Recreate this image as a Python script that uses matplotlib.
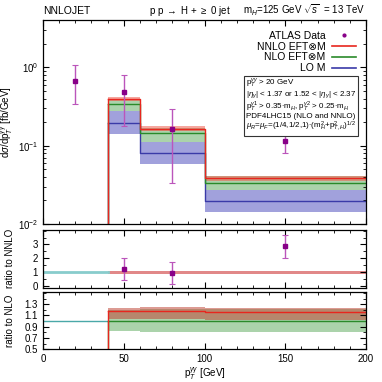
import matplotlib
matplotlib.use('Agg')
import matplotlib.pyplot as plt
from matplotlib.lines import Line2D
from matplotlib.ticker import MultipleLocator, FixedLocator
import numpy as np

plt.rcParams['font.family'] = ['Liberation Sans', 'DejaVu Sans']
plt.rcParams['mathtext.fontset'] = 'custom'
plt.rcParams['mathtext.rm'] = 'Liberation Sans'
plt.rcParams['mathtext.it'] = 'Liberation Sans:italic'
plt.rcParams['font.size'] = 7

# theory bins
edges = [40, 60, 100, 200]
nnlo = [0.395, 0.165, 0.0384]
nnlo_lo = [0.37, 0.155, 0.0359]
nnlo_hi = [0.42, 0.177, 0.0407]
nlo = [0.338, 0.144, 0.0338]
nlo_lo = [0.275, 0.112, 0.0273]
nlo_hi = [0.40, 0.17, 0.041]
lo = [0.193, 0.080, 0.0199]
lo_lo = [0.141, 0.0588, 0.0141]
lo_hi = [0.275, 0.112, 0.0273]

# ATLAS data
data_x = [20, 50, 80, 150]
data_y = [0.68, 0.49, 0.165, 0.1135]
data_lo = [0.338, 0.18, 0.0336, 0.0797]
data_hi = [1.06, 0.81, 0.298, 0.147]

# ratio to NNLO
rnn_x = [50, 80, 150]
rnn_y = [1.21, 0.94, 2.88]
rnn_lo = [0.39, 0.10, 1.98]
rnn_hi = [2.03, 1.74, 3.72]
rnn_band_lo = [0.86, 0.86, 0.86]
rnn_band_hi = [1.1, 1.1, 1.1]

# ratio to NLO
r_nnlo = [1.18, 1.186, 1.16]
r_nnlo_lo = [1.04, 1.04, 1.02]
r_nnlo_hi = [1.229, 1.25, 1.23]
r_nlo = [1.0, 1.0, 1.0]
r_nlo_lo = [0.825, 0.80, 0.81]
r_nlo_hi = [1.2, 1.22, 1.21]

RED = '#e8261e'
GREEN = '#2a8a2a'
BLUE = '#3a3aa8'
PURPLE = '#880088'
TEAL = '#4aa8a8'


def step(vals):
    return list(vals) + [vals[-1]]


def hist(ax, vals, lo, hi, color, fill, bottom):
    ax.fill_between(edges, step(lo), step(hi), step='post', color=fill, alpha=0.55, lw=0)
    ax.step(edges, step(vals), where='post', color=color, lw=1.0)
    ax.plot([edges[0], edges[0]], [bottom, vals[0]], color=color, lw=1.0)


def style(ax):
    ax.tick_params(direction='in', which='both', top=True, right=True, labelsize=7)
    ax.tick_params(which='major', length=4)
    ax.tick_params(which='minor', length=2)
    ax.xaxis.set_major_locator(MultipleLocator(50))
    ax.xaxis.set_minor_locator(MultipleLocator(10))
    ax.set_xlim(0, 200)
    for s in ax.spines.values():
        s.set_linewidth(0.9)


fig = plt.figure(figsize=(3.82, 3.82), dpi=100)
ax1 = fig.add_axes([0.1126, 0.4136, 0.8455, 0.534])
ax2 = fig.add_axes([0.1126, 0.2469, 0.8455, 0.151])
ax3 = fig.add_axes([0.1126, 0.0856, 0.8455, 0.1492])

# main panel
ax1.set_yscale('log')
ax1.set_ylim(0.01, 4.04)
hist(ax1, lo, lo_lo, lo_hi, BLUE, '#5555c0', 0.01)
hist(ax1, nlo, nlo_lo, nlo_hi, GREEN, '#66b066', 0.01)
hist(ax1, nnlo, nnlo_lo, nnlo_hi, RED, '#f06050', 0.01)
ax1.errorbar(data_x, data_y,
             yerr=[np.array(data_y) - np.array(data_lo), np.array(data_hi) - np.array(data_y)],
             fmt='s', ms=2.5, color=PURPLE, ecolor='#bb55bb', elinewidth=1.0, capsize=2, capthick=0.8)
style(ax1)
ax1.tick_params(labelbottom=False)
ax1.set_ylabel(r'd$\sigma$/dp$_T^{\gamma\gamma}$ [fb/GeV]', fontsize=7)

handles = [Line2D([], [], ls='none', marker='o', ms=2, color=PURPLE),
           Line2D([], [], color=RED, lw=1.2),
           Line2D([], [], color=GREEN, lw=1.2),
           Line2D([], [], color=BLUE, lw=1.2)]
labels = ['ATLAS Data', 'NNLO EFT⊗M', 'NLO EFT⊗M', 'LO M']
ax1.legend(handles, labels, loc='upper right', markerfirst=False, frameon=False,
           fontsize=7.5, handlelength=2.3, handletextpad=0.6, labelspacing=0.08,
           borderpad=0, borderaxespad=0, bbox_to_anchor=(0.968, 0.947))

info = ('p$_T^{\\gamma\\gamma}$ > 20 GeV\n'
        '|$\\eta_\\gamma$| < 1.37 or 1.52 < |$\\eta_\\gamma$| < 2.37\n'
        'p$_T^{\\gamma1}$ > 0.35$\\cdot$m$_H$, p$_T^{\\gamma2}$ > 0.25$\\cdot$m$_H$\n'
        'PDF4LHC15 (NLO and NNLO)\n'
        '$\\mu_R$=$\\mu_F$=(1/4,1/2,1)$\\cdot$(m$_H^2$+p$_{T,H}^2$)$^{1/2}$')
ax1.text(0.628, 0.722, info, transform=ax1.transAxes, fontsize=5.8, va='top', ha='left',
         linespacing=0.92,
         bbox=dict(boxstyle='square,pad=0.25', fc='white', ec='#333333', lw=0.8))

fig.text(0.1126, 0.972, 'NNLOJET', fontsize=7.5, va='center', ha='left')
fig.text(0.497, 0.972, r'p p $\rightarrow$ H + $\geq$ 0 jet', fontsize=7, va='center', ha='center')
fig.text(0.636, 0.972, r'm$_H$=125 GeV $\sqrt{s}$  = 13 TeV', fontsize=7, va='center', ha='left')

# ratio to NNLO
ax2.plot([0, edges[0]], [1, 1], color='#88cccc', lw=2)
ax2.fill_between(edges, step(rnn_band_lo), step(rnn_band_hi), step='post', color='#d86060', alpha=0.75, lw=0)
ax2.errorbar(rnn_x, rnn_y,
             yerr=[np.array(rnn_y) - np.array(rnn_lo), np.array(rnn_hi) - np.array(rnn_y)],
             fmt='s', ms=2.5, color=PURPLE, ecolor='#bb55bb', elinewidth=1.0, capsize=2, capthick=0.8)
ax2.set_ylim(-0.15, 4.05)
style(ax2)
ax2.yaxis.set_major_locator(FixedLocator([0, 1, 2, 3]))
ax2.yaxis.set_minor_locator(MultipleLocator(0.5))
ax2.tick_params(labelbottom=False)
ax2.set_ylabel('ratio to NNLO', fontsize=7)

# ratio to NLO
ax3.plot([0, edges[0]], [1, 1], color=TEAL, lw=1)
hist(ax3, r_nlo, r_nlo_lo, r_nlo_hi, GREEN, '#66b066', 0.5)
hist(ax3, r_nnlo, r_nnlo_lo, r_nnlo_hi, RED, '#c04a3a', 0.5)
ax3.set_ylim(0.5, 1.51)
style(ax3)
ax3.yaxis.set_major_locator(FixedLocator([0.5, 0.7, 0.9, 1.1, 1.3]))
ax3.yaxis.set_minor_locator(MultipleLocator(0.1))
ax3.set_ylabel('ratio to NLO', fontsize=7)
ax3.set_xlabel(r'p$_T^{\gamma\gamma}$ [GeV]', fontsize=7, labelpad=1)

for ax in (ax1, ax2, ax3):
    ax.yaxis.set_label_coords(-0.087, 0.5)

fig.savefig('out.png', dpi=100)
